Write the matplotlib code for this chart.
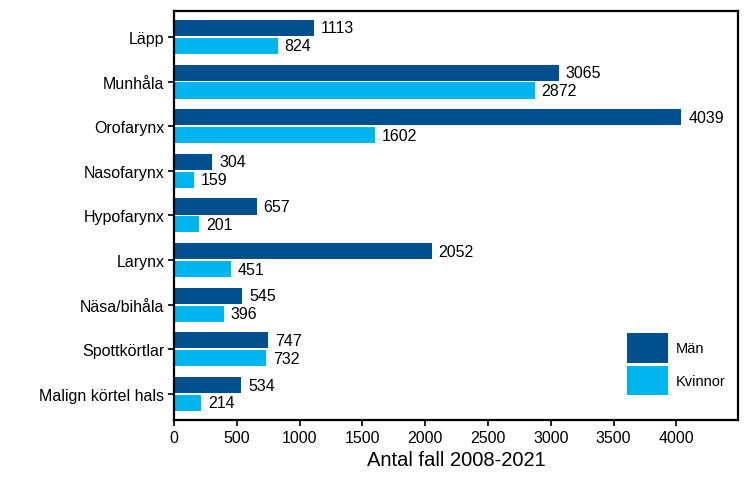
import numpy as np
import matplotlib
matplotlib.use("Agg")
import matplotlib.pyplot as plt

plt.rcParams["font.family"] = ["Liberation Sans", "DejaVu Sans"]

categories = ["Läpp", "Munhåla", "Orofarynx", "Nasofarynx", "Hypofarynx",
              "Larynx", "Näsa/bihåla", "Spottkörtlar", "Malign körtel hals"]
man = [1113, 3065, 4039, 304, 657, 2052, 545, 747, 534]
kvinnor = [824, 2872, 1602, 159, 201, 451, 396, 732, 214]
xticks = [0, 500, 1000, 1500, 2000, 2500, 3000, 3500, 4000]

C_MAN = "#00508f"
C_KV = "#00b4f0"

fig = plt.figure(figsize=(7.5, 4.81), dpi=100)
ax = fig.add_axes([0.232, 0.125, 0.752, 0.85])

y = np.arange(len(categories))
h = 0.36
b1 = ax.barh(y - 0.2, man, height=h, color=C_MAN, label="Män")
b2 = ax.barh(y + 0.2, kvinnor, height=h, color=C_KV, label="Kvinnor")

# value labels at the end of each bar
for bars in (b1, b2):
    for rect in bars:
        w = rect.get_width()
        ax.annotate(f"{int(w)}", (w, rect.get_y() + rect.get_height() / 2),
                    xytext=(5, 0), textcoords="offset points",
                    va="center", ha="left", fontsize=11.5)

ax.set_yticks(y)
ax.set_yticklabels(categories, fontsize=11.5)
ax.set_xticks(xticks)
ax.set_xticklabels([str(t) for t in xticks], fontsize=11.5)
ax.set_xlim(0, 4490)
ax.set_ylim(len(categories) - 1 + 0.58, -0.58)
ax.set_xlabel("Antal fall 2008-2021", fontsize=14.5, labelpad=4)

for s in ax.spines.values():
    s.set_linewidth(1.6)
ax.tick_params(axis="both", length=4, width=1.2, pad=3)

ax.legend(loc="lower left", bbox_to_anchor=(0.803, 0.06), frameon=False,
          fontsize=10.5, handlelength=2.85, handleheight=2.75,
          handletextpad=0.5, labelspacing=0.2, borderpad=0, borderaxespad=0)

fig.savefig("out.png", dpi=100)
